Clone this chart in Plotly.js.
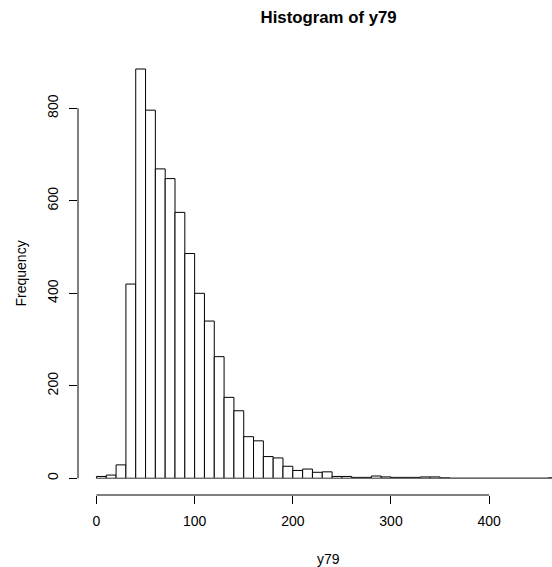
<!DOCTYPE html>
<html>
<head>
<meta charset="utf-8">
<script src="https://cdn.plot.ly/plotly-3.0.1.min.js"></script>
<style>html,body{margin:0;padding:0;background:#fff;}#chart{width:552px;height:567px;}</style>
</head>
<body>
<div id="chart"></div>
<script>
// Histogram of y79: bins of width 10 starting at 0
const binStart = 0;
const binWidth = 10;
const counts = [4, 7, 29, 420, 885, 796, 669, 648, 575, 486,
                400, 340, 263, 175, 146, 90, 81, 47, 44, 26,
                17, 20, 13, 14, 4, 4, 2, 2, 5, 3,
                2, 2, 2, 3, 3, 1, 0, 0, 0, 0,
                0, 0, 0, 0, 0, 0, 1];
const xTicks = [0, 100, 200, 300, 400];
const yTicks = [0, 200, 400, 600, 800];
const titleText = "Histogram of y79";
const xLabel = "y79";
const yLabel = "Frequency";

const mids = counts.map((c, i) => binStart + binWidth * i + binWidth / 2);
const lastBreak = binStart + binWidth * counts.length;

const font = "Liberation Sans, Arial, Helvetica, sans-serif";

const traces = [
  {
    type: "scatter", mode: "lines",
    x: [binStart, lastBreak], y: [0, 0],
    line: {color: "#808080", width: 1},
    hoverinfo: "skip", showlegend: false
  },
  {
    type: "bar",
    x: mids, y: counts,
    width: binWidth,
    marker: {color: "#ffffff", line: {color: "#000000", width: 1}},
    showlegend: false
  }
];

const layout = {
  width: 552, height: 567,
  margin: {l: 78, r: 0, t: 53, b: 72, pad: 0},
  paper_bgcolor: "#ffffff", plot_bgcolor: "#ffffff",
  font: {family: font, size: 14, color: "#000000"},
  title: {
    text: "<b>" + titleText + "</b>",
    font: {family: font, size: 16.8, color: "#000000"},
    x: 328.6 / 552, xanchor: "center", xref: "container",
    y: 1 - 17 / 567, yanchor: "middle", yref: "container"
  },
  xaxis: {
    range: [-18.8, 464.0],
    tickvals: xTicks, ticktext: xTicks.map(String),
    ticks: "outside", ticklen: 8, tickwidth: 1, tickcolor: "#000000",
    ticklabelstandoff: 5,
    showline: false, showgrid: false, zeroline: false,
    tickfont: {family: font, size: 14, color: "#000000"},
    fixedrange: true
  },
  yaxis: {
    range: [-36.1, 919.6],
    tickvals: yTicks, ticktext: yTicks.map(String),
    tickangle: -90,
    ticks: "outside", ticklen: 8, tickwidth: 1, tickcolor: "#000000",
    ticklabelstandoff: 5,
    showline: false, showgrid: false, zeroline: false,
    tickfont: {family: font, size: 14, color: "#000000"},
    fixedrange: true
  },
  shapes: [
    {type: "line", xref: "x", yref: "paper", x0: xTicks[0], x1: xTicks[xTicks.length - 1], y0: 0, y1: 0,
     line: {color: "#000000", width: 1}},
    {type: "line", xref: "paper", yref: "y", x0: 0, x1: 0, y0: yTicks[0], y1: yTicks[yTicks.length - 1],
     line: {color: "#000000", width: 1}}
  ],
  annotations: [
    {text: xLabel, xref: "paper", yref: "paper", x: (328.3 - 78) / 474, y: (495 - 558.5) / 442,
     xanchor: "center", yanchor: "middle", showarrow: false,
     font: {family: font, size: 14, color: "#000000"}},
    {text: yLabel, xref: "paper", yref: "paper", x: (20.5 - 78) / 474, y: (495 - 274) / 442,
     xanchor: "center", yanchor: "middle", textangle: -90, showarrow: false,
     font: {family: font, size: 14, color: "#000000"}}
  ],
  bargap: 0
};

Plotly.newPlot("chart", traces, layout, {staticPlot: true, displayModeBar: false});
</script>
</body>
</html>
